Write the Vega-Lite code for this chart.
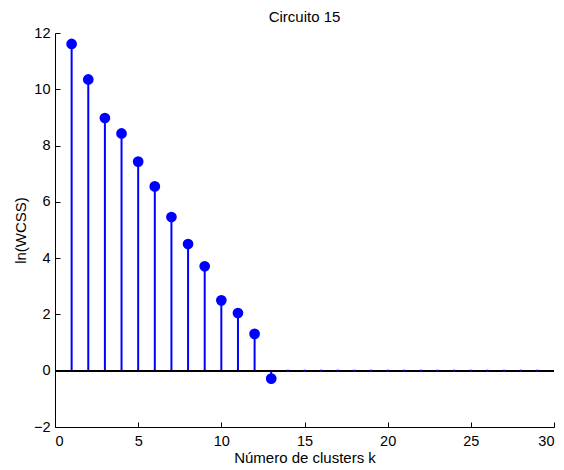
{
  "$schema": "https://vega.github.io/schema/vega-lite/v6.json",
  "autosize": "none",
  "width": 499,
  "height": 394,
  "padding": {"left": 55, "top": 33, "right": 10, "bottom": 43},
  "background": "white",
  "config": {
    "view": {"stroke": null},
    "font": "Liberation Sans",
    "axis": {
      "grid": false,
      "domainColor": "black",
      "tickColor": "black",
      "labelColor": "black",
      "titleColor": "black",
      "labelFont": "Liberation Sans",
      "titleFont": "Liberation Sans",
      "labelFontSize": 14.5,
      "titleFontSize": 15,
      "titleFontWeight": "normal",
      "tickSize": -5,
      "domainWidth": 1,
      "tickWidth": 1
    }
  },
  "title": {
    "text": "Circuito 15",
    "font": "Liberation Sans",
    "fontSize": 15,
    "fontWeight": "normal",
    "color": "black",
    "anchor": "middle",
    "offset": 0
  },
  "data": {
    "values": [
      {"k": 1, "v": 11.61},
      {"k": 2, "v": 10.35},
      {"k": 3, "v": 8.98},
      {"k": 4, "v": 8.43},
      {"k": 5, "v": 7.43},
      {"k": 6, "v": 6.55},
      {"k": 7, "v": 5.46},
      {"k": 8, "v": 4.50},
      {"k": 9, "v": 3.71},
      {"k": 10, "v": 2.50},
      {"k": 11, "v": 2.05},
      {"k": 12, "v": 1.31},
      {"k": 13, "v": -0.28},
      {"k": 14, "v": 0},
      {"k": 15, "v": 0},
      {"k": 16, "v": 0},
      {"k": 17, "v": 0},
      {"k": 18, "v": 0},
      {"k": 19, "v": 0},
      {"k": 20, "v": 0},
      {"k": 21, "v": 0},
      {"k": 22, "v": 0},
      {"k": 23, "v": 0},
      {"k": 24, "v": 0},
      {"k": 25, "v": 0},
      {"k": 26, "v": 0},
      {"k": 27, "v": 0},
      {"k": 28, "v": 0},
      {"k": 29, "v": 0}
    ]
  },
  "encoding": {
    "x": {
      "field": "k",
      "type": "quantitative",
      "scale": {"domain": [0, 30], "nice": false, "zero": false},
      "axis": {"values": [0, 5, 10, 15, 20, 25, 30], "title": "Número de clusters k", "labelPadding": 12, "titlePadding": 3, "format": "d"}
    },
    "y": {
      "field": "v",
      "type": "quantitative",
      "scale": {"domain": [-2, 12], "nice": false},
      "axis": {"values": [-2, 0, 2, 4, 6, 8, 10, 12], "title": "ln(WCSS)", "labelPadding": 10, "titlePadding": 5, "format": "d"}
    }
  },
  "layer": [
    {
      "transform": [{"filter": "datum.k <= 13"}],
      "mark": {"type": "rule", "color": "#0000FF", "strokeWidth": 2},
      "encoding": {"y2": {"datum": 0}}
    },
    {
      "mark": {"type": "rule", "color": "black", "strokeWidth": 1},
      "encoding": {
        "x": {"datum": 0, "type": "quantitative"},
        "x2": {"datum": 30},
        "y": {"datum": 0, "type": "quantitative"}
      }
    },
    {
      "transform": [{"filter": "datum.k <= 13"}],
      "mark": {"type": "circle", "color": "#0000FF", "opacity": 1, "size": 115}
    },
    {
      "transform": [{"filter": "datum.k > 13"}],
      "mark": {"type": "square", "color": "#0000FF", "opacity": 1, "size": 4}
    }
  ]
}
